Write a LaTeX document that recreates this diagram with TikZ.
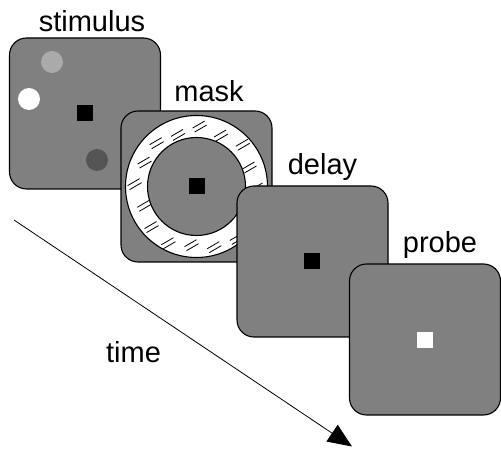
\documentclass[tikz,border=0pt]{standalone}
\usepackage{fontspec}
\setmainfont{Liberation Sans}
\usepackage{tikz}
\usetikzlibrary{arrows.meta,positioning,calc}
\definecolor{screen}{HTML}{808080}
\definecolor{lightdot}{HTML}{AAAAAA}
\definecolor{darkdot}{HTML}{555555}

\begin{document}
\begin{tikzpicture}[x=1pt, y=1pt,
    frame/.style={rectangle, draw, fill=screen, rounded corners=17pt,
                  line width=1.1pt, minimum width=151pt, minimum height=151pt},
    fix/.style={rectangle, fill=black, minimum size=16pt, inner sep=0pt},
    dot/.style={circle, minimum size=22pt, inner sep=0pt},
    lbl/.style={anchor=base, inner sep=0pt, font=\fontsize{29}{34}\selectfont},
    hatch/.style={line width=0.8pt},
    timearrow/.style={-{Triangle[length=24pt, width=20pt]}, line width=0.8pt}
  ]
  \useasboundingbox (0,0) rectangle (501,450);

  % Stimulus screen
  \node[frame] (stim) at (85, 336.5) {};
  \node[fix] (stim_fix) at (85, 337) {};
  \node[dot, fill=lightdot] (dot_a) at (52, 388) {};
  \node[dot, fill=white] (dot_b) at (29, 351) {};
  \node[dot, fill=darkdot] (dot_c) at (97, 290) {};
  \node[lbl] (stim_lbl) at (92, 418) {stimulus};

  % Mask screen with hatched ring
  \node[frame] (mask) at (196.5, 263.5) {};
  \draw[fill=white, line width=1.1pt] (mask.center) circle (71);
  \foreach \a/\r in {0/60,22/56,44/63,66/58,88/62,110/57,132/61,154/59,
                     176/63,198/56,220/60,242/62,264/57,286/61,308/64,330/58} {
    \draw[hatch] ($(mask.center)+(\a:\r)+(-6,-3.5)$) -- ++(12,7);
    \draw[hatch] ($(mask.center)+(\a:\r)+(-4,-7.5)$) -- ++(12,7);
  }
  \draw[fill=screen, line width=1.1pt] (mask.center) circle (49);
  \node[fix] (mask_fix) at (mask.center) {};
  \node[lbl] (mask_lbl) at (209, 348) {mask};

  % Delay screen
  \node[frame] (delay) at (312.5, 188.5) {};
  \node[fix] (delay_fix) at (312, 188.5) {};
  \node[lbl] (delay_lbl) at (322.5, 275) {delay};

  % Probe screen
  \node[frame] (probe) at (425, 110.5) {};
  \node[fix, fill=white] (probe_fix) at (425, 110) {};
  \node[lbl] (probe_lbl) at (440, 197) {probe};

  % Time axis
  \coordinate (t_start) at (14, 230);
  \coordinate (t_end) at (352, 3.5);
  \draw[timearrow] (t_start) -- (t_end);
  \node[lbl] (time_lbl) at (133.5, 87) {time};

\end{tikzpicture}
\end{document}
